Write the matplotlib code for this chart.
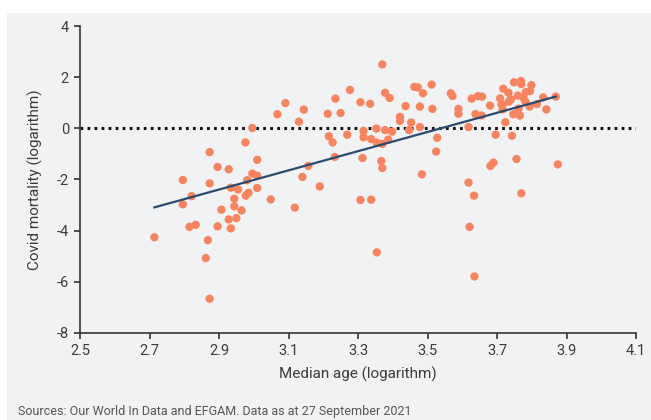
import matplotlib
matplotlib.use("Agg")
import matplotlib.pyplot as plt
from matplotlib.patches import Rectangle

# median age (log) vs covid mortality (log)
median_age = [
    2.714, 2.796, 2.796, 2.815, 2.821, 2.833, 2.862, 2.868, 2.873, 2.873,
    2.873, 2.896, 2.896, 2.907, 2.928, 2.928, 2.934, 2.934, 2.944, 2.944,
    2.950, 2.955, 2.965, 2.976, 2.977, 2.981, 2.985, 2.996, 2.996, 3.010,
    3.010, 3.010, 3.049, 3.068, 3.091, 3.118, 3.130, 3.140, 3.144, 3.157,
    3.190, 3.213, 3.216, 3.227, 3.233, 3.235, 3.250, 3.269, 3.277, 3.307,
    3.307, 3.313, 3.316, 3.316, 3.335, 3.338, 3.338, 3.353, 3.354, 3.354,
    3.367, 3.370, 3.370, 3.370, 3.378, 3.378, 3.387, 3.391, 3.398, 3.421,
    3.421, 3.437, 3.447, 3.453, 3.462, 3.472, 3.478, 3.478, 3.484, 3.487,
    3.512, 3.514, 3.525, 3.528, 3.567, 3.572, 3.589, 3.589, 3.618, 3.618,
    3.621, 3.627, 3.634, 3.635, 3.638, 3.645, 3.656, 3.657, 3.680, 3.681,
    3.690, 3.696, 3.709, 3.713, 3.716, 3.716, 3.718, 3.724, 3.733, 3.734,
    3.740, 3.743, 3.747, 3.749, 3.756, 3.760, 3.762, 3.766, 3.769, 3.770,
    3.770, 3.776, 3.782, 3.783, 3.794, 3.795, 3.799, 3.815, 3.833, 3.842,
    3.869, 3.875,
]
mortality = [
    -4.26, -2.02, -2.97, -3.85, -2.65, -3.77, -5.07, -4.37, -0.93, -2.15,
    -6.66, -1.51, -3.83, -3.18, -1.60, -3.56, -2.32, -3.91, -2.75, -3.05,
    -3.51, -2.39, -3.21, -0.55, -2.63, -2.03, -2.52, 0.01, -1.77, -1.23,
    -1.85, -2.33, -2.78, 0.55, 0.99, -3.10, 0.26, -1.90, 0.73, -1.47,
    -2.27, 0.57, -0.31, -0.55, -1.12, 1.16, 0.60, -0.25, 1.50, 1.02,
    -2.80, -1.16, -0.10, -0.35, 0.96, -0.42, -2.79, -0.01, -0.56, -4.85,
    -1.28, 2.50, -0.61, -1.55, 1.39, -0.07, -0.44, 1.19, -0.13, 0.45,
    0.29, 0.87, -0.07, 0.23, 1.62, 1.60, 0.85, 0.05, -1.80, 1.37,
    1.71, 0.76, -0.91, -0.37, 1.37, 1.26, 0.76, 0.57, 0.05, -2.12,
    -3.85, 1.16, -2.63, -5.79, 0.56, 1.26, 0.50, 1.24, 0.89, -1.47,
    -1.34, -0.25, 1.17, 0.94, 0.91, 0.74, 1.55, 0.24, 1.39, 1.04,
    1.13, -0.29, 0.55, 1.80, -1.20, 1.28, 0.77, 0.50, 1.85, 1.73,
    -2.54, 1.20, 1.04, 1.42, 0.85, 1.46, 1.69, 0.95, 1.21, 0.74,
    1.24, -1.41,
]

# fitted line end points
fit_x = [2.714, 3.869]
fit_y = [-3.09, 1.24]

x_ticks = [2.5, 2.7, 2.9, 3.1, 3.3, 3.5, 3.7, 3.9, 4.1]
y_ticks = [4, 2, 0, -2, -4, -6, -8]

bg = "#f1f2f4"
dot = "#f6855f"
navy = "#2b4a6f"
ink = "#3c3c3c"

plt.rcParams["font.family"] = ["Roboto", "DejaVu Sans"]

fig = plt.figure(figsize=(6.51, 4.20), dpi=100)
panel = Rectangle((7 / 651, 0), 1, 1 - 13 / 420, transform=fig.transFigure,
                  facecolor=bg, edgecolor="none", zorder=-10)
fig.add_artist(panel)

ax = fig.add_axes([80 / 651, 1 - 333 / 420, 556 / 651, 307 / 420])
ax.set_facecolor(bg)

ax.axhline(0, color="#111111", lw=2.2, linestyle=(0, (0.9, 1.4)), zorder=1)
ax.scatter(median_age, mortality, s=36, color=dot, edgecolors="none", zorder=3)
ax.plot(fit_x, fit_y, color=navy, lw=1.6, zorder=4)

ax.set_xlim(2.5, 4.1)
ax.set_ylim(-8, 4)
ax.set_xticks(x_ticks)
ax.set_yticks(y_ticks)
ax.set_xticklabels([f"{v:.1f}" for v in x_ticks])
ax.set_yticklabels([str(v) for v in y_ticks])

for side in ["top", "right"]:
    ax.spines[side].set_visible(False)
for side in ["left", "bottom"]:
    ax.spines[side].set_color("#333333")
    ax.spines[side].set_linewidth(1.2)
ax.tick_params(colors="#333333", labelcolor=ink, length=4, width=1.2, labelsize=10.5, pad=4)

ax.set_xlabel("Median age (logarithm)", fontsize=11, color=ink, labelpad=6)
ax.set_ylabel("Covid mortality (logarithm)", fontsize=11, color=ink, labelpad=10)

fig.text(18 / 651, 1 - 405 / 420, "Sources: Our World In Data and EFGAM. Data as at 27 September 2021",
         fontsize=9, color="#555555", va="top", ha="left")

fig.savefig("out.png", dpi=100, facecolor="white")
